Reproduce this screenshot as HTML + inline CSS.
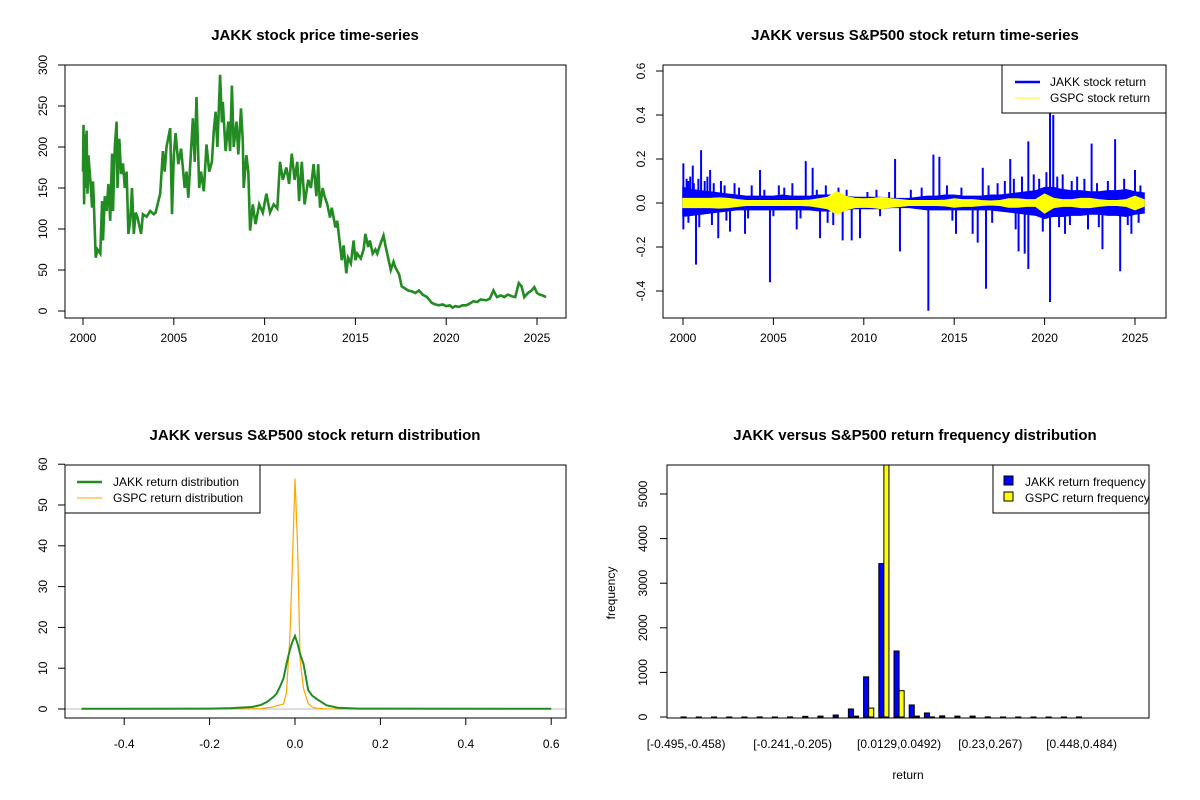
<!DOCTYPE html>
<html><head><meta charset="utf-8"><style>
body{margin:0;background:#fff}
svg{display:block;font-family:"Liberation Sans",Arial,sans-serif}
</style></head><body>
<svg id="c" width="1200" height="800" xmlns="http://www.w3.org/2000/svg"></svg>
<script>
// ---------- Panel 1 data: JAKK price ----------
const priceYears=[
2000,2000.03,2000.06,2000.1,2000.15,2000.2,2000.25,2000.3,2000.4,2000.5,
2000.55,2000.6,2000.7,2000.8,2000.95,2001.05,2001.1,2001.2,2001.3,2001.4,
2001.5,2001.6,2001.65,2001.75,2001.85,2001.9,2002.0,2002.1,2002.2,2002.3,
2002.4,2002.5,2002.6,2002.7,2002.8,2002.9,2003.0,2003.2,2003.3,2003.5,
2003.7,2003.9,2004.0,2004.25,2004.4,2004.5,2004.6,2004.8,2004.9,2005.0,
2005.1,2005.25,2005.4,2005.6,2005.7,2005.8,2006.05,2006.15,2006.25,2006.4,
2006.5,2006.65,2006.8,2006.95,2007.1,2007.2,2007.3,2007.4,2007.55,2007.65,
2007.7,2007.85,2008.0,2008.1,2008.2,2008.3,2008.45,2008.55,2008.7,2008.8,
2008.85,2009.0,2009.1,2009.2,2009.35,2009.5,2009.7,2009.9,2010.1,2010.3,
2010.5,2010.7,2010.85,2011.0,2011.2,2011.35,2011.5,2011.65,2011.8,2011.9,
2012.05,2012.2,2012.4,2012.55,2012.7,2012.85,2012.95,2013.05,2013.2,2013.3,
2013.45,2013.6,2013.7,2013.9,2014.0,2014.1,2014.25,2014.35,2014.5,2014.6,
2014.75,2014.9,2015.0,2015.1,2015.3,2015.45,2015.55,2015.7,2015.8,2015.95,
2016.1,2016.2,2016.35,2016.55,2016.65,2016.8,2016.95,2017.1,2017.2,2017.4,
2017.55,2017.7,2017.9,2018.1,2018.3,2018.5,2018.7,2018.95,2019.2,2019.4,
2019.6,2019.8,2020.0,2020.2,2020.35,2020.5,2020.7,2020.9,2021.1,2021.3,
2021.5,2021.7,2021.9,2022.2,2022.4,2022.6,2022.8,2023.0,2023.2,2023.4,
2023.6,2023.8,2024.0,2024.15,2024.3,2024.5,2024.7,2024.85,2025.0,2025.15,
2025.3,2025.5];
const priceValues=[
170,227,130,215,150,220,143,190,160,126,
158,130,65,75,70,134,86,140,122,155,
110,192,122,200,231,150,210,167,180,150,
170,94,110,150,94,120,114,94,118,115,
122,118,120,143,195,170,200,223,118,190,
217,179,198,150,170,138,235,182,261,150,
170,146,203,170,182,220,243,200,288,230,
255,195,231,195,275,200,231,191,247,207,
150,190,170,98,130,106,130,120,143,120,
130,125,182,160,175,155,192,160,182,134,
182,130,160,150,179,140,179,126,150,140,
130,114,126,102,110,90,62,80,46,65,
58,86,62,70,64,75,94,78,86,70,
75,70,80,92,80,65,50,60,53,45,
30,28,25,24,22,25,20,17,10,8,
7,8,6,7,4,6,5,7,7,9,
12,11,14,13,15,25,17,19,17,20,
18,17,34,30,17,22,25,29,22,20,
19,17];

// ---------- Panel 2 data: returns ----------
const envYears=[2000,2000.5,2001,2001.5,2002,2002.5,2003,2003.5,2004,2004.5,2005,2005.5,2006,2006.5,2007,2007.5,2008,2008.5,2009,2009.5,2010,2010.5,2011,2011.5,2012,2012.5,2013,2013.5,2014,2014.5,2015,2015.5,2016,2016.5,2017,2017.5,2018,2018.5,2019,2019.5,2020,2020.5,2021,2021.5,2022,2022.5,2023,2023.5,2024,2024.5,2025,2025.5];
const jakkUp=[0.07,0.06,0.055,0.05,0.045,0.04,0.035,0.03,0.03,0.03,0.03,0.035,0.03,0.03,0.03,0.035,0.035,0.035,0.03,0.025,0.025,0.025,0.025,0.02,0.02,0.02,0.025,0.03,0.03,0.035,0.035,0.03,0.03,0.03,0.035,0.035,0.04,0.045,0.05,0.055,0.07,0.07,0.06,0.055,0.055,0.05,0.05,0.055,0.055,0.06,0.05,0.045];
const jakkDown=[-0.06,-0.055,-0.05,-0.045,-0.04,-0.035,-0.03,-0.03,-0.03,-0.03,-0.03,-0.03,-0.03,-0.03,-0.03,-0.035,-0.035,-0.035,-0.03,-0.025,-0.025,-0.025,-0.025,-0.02,-0.02,-0.02,-0.025,-0.03,-0.03,-0.03,-0.03,-0.03,-0.03,-0.03,-0.03,-0.035,-0.04,-0.045,-0.05,-0.055,-0.07,-0.06,-0.06,-0.055,-0.055,-0.05,-0.05,-0.055,-0.055,-0.06,-0.05,-0.045];
const gspcUp=[0.02,0.02,0.02,0.02,0.022,0.02,0.015,0.01,0.01,0.01,0.01,0.01,0.01,0.01,0.012,0.018,0.025,0.05,0.03,0.02,0.018,0.02,0.025,0.018,0.015,0.01,0.01,0.01,0.01,0.012,0.018,0.014,0.014,0.01,0.008,0.01,0.018,0.018,0.014,0.014,0.04,0.02,0.014,0.014,0.02,0.02,0.014,0.01,0.01,0.014,0.03,0.014];
const gspcDown=[-0.02,-0.02,-0.02,-0.02,-0.022,-0.02,-0.015,-0.01,-0.01,-0.01,-0.01,-0.01,-0.01,-0.01,-0.012,-0.018,-0.025,-0.05,-0.03,-0.02,-0.018,-0.02,-0.025,-0.018,-0.015,-0.01,-0.01,-0.01,-0.01,-0.012,-0.018,-0.014,-0.014,-0.01,-0.008,-0.01,-0.018,-0.018,-0.014,-0.014,-0.045,-0.02,-0.014,-0.014,-0.02,-0.02,-0.014,-0.01,-0.01,-0.014,-0.03,-0.014];
const spikeYears=[2000.02,2000.02,2000.54,2000.72,2001.0,2001.5,2001.95,2002.6,2003.43,2004.26,2004.81,2006.29,2006.79,2007.17,2007.58,2008.31,2008.83,2009.33,2009.79,2011.73,2012.0,2013.57,2013.85,2014.18,2015.1,2016.02,2016.3,2016.58,2016.76,2018.1,2018.56,2018.9,2019.1,2019.1,2020.3,2020.3,2020.48,2021.13,2022.6,2023.2,2023.9,2024.18,2025.0,2024.8,
2000.2,2000.3,2000.4,2000.6,2000.85,2001.2,2001.35,2001.7,2002.1,2002.3,2002.85,2003.1,2003.8,2004.5,2005.3,2005.6,2006.05,2007.4,2007.9,2008.6,2009.05,2010.2,2010.7,2011.4,2012.6,2013.2,2014.6,2015.4,2016.9,2017.4,2017.8,2018.3,2018.75,2019.4,2019.7,2020.1,2020.7,2021.0,2021.5,2021.8,2022.2,2022.9,2023.5,2024.4,2025.3,
2000.3,2000.9,2001.6,2002.4,2003.6,2005.0,2006.5,2008.0,2010.9,2014.9,2017.1,2018.4,2019.9,2020.8,2021.4,2022.4,2023.0,2024.6,2025.2];
const spikeValues=[0.18,-0.12,0.17,-0.28,0.24,0.15,-0.16,-0.13,-0.14,0.15,-0.36,-0.12,0.19,0.16,-0.16,-0.1,-0.17,-0.17,-0.16,0.2,-0.22,-0.49,0.22,0.21,-0.14,-0.14,-0.18,0.16,-0.39,0.2,-0.22,-0.23,0.28,-0.3,0.42,-0.45,0.4,-0.14,0.27,-0.21,0.29,-0.31,0.15,-0.14,
0.11,0.1,0.12,0.09,0.11,0.1,0.12,0.09,0.1,0.08,0.09,0.07,0.08,0.06,0.08,0.07,0.09,0.06,0.08,0.07,0.06,0.05,0.06,0.05,0.06,0.07,0.08,0.07,0.08,0.09,0.1,0.11,0.12,0.13,0.11,0.14,0.12,0.13,0.1,0.12,0.11,0.09,0.1,0.11,0.08,
-0.09,-0.11,-0.1,-0.08,-0.07,-0.06,-0.07,-0.09,-0.06,-0.08,-0.09,-0.12,-0.13,-0.11,-0.1,-0.12,-0.11,-0.1,-0.09];

// ---------- Panel 3 data: densities ----------
const densX=[-0.5,-0.2,-0.15,-0.1,-0.08,-0.066,-0.05,-0.043,-0.035,-0.027,-0.02,-0.012,-0.006,0,0.006,0.012,0.02,0.031,0.04,0.05,0.074,0.1,0.15,0.6];
const jakkDens=[0.05,0.1,0.2,0.5,1.0,1.7,3.0,3.8,5.5,7.5,11,14.5,16.5,17.9,16,13.5,11,4.6,3.3,2.5,0.9,0.3,0.1,0.05];
const gspcDens=[0,0,0,0.05,0.1,0.3,0.5,0.8,1.0,1.2,4,17.7,36,56.5,40,12,5,1.3,0.5,0.2,0.05,0,0,0];

// ---------- Panel 4 data: frequency histogram ----------
const binLabels=["[-0.495,-0.458)","[-0.458,-0.422)","[-0.422,-0.386)","[-0.386,-0.35)","[-0.35,-0.313)","[-0.313,-0.277)","[-0.277,-0.241)","[-0.241,-0.205)","[-0.205,-0.168)","[-0.168,-0.132)","[-0.132,-0.0959)","[-0.0959,-0.0596)","[-0.0596,-0.0234)","[-0.0234,0.0129)","[0.0129,0.0492)","[0.0492,0.0855)","[0.0855,0.122)","[0.122,0.158)","[0.158,0.194)","[0.194,0.23)","[0.23,0.267)","[0.267,0.303)","[0.303,0.339)","[0.339,0.376)","[0.376,0.412)","[0.412,0.448)","[0.448,0.484)"];
const shownLabels=[0,7,14,20,26];
const jakkFreq=[2,1,1,1,1,2,1,2,15,20,45,180,900,3440,1480,270,90,25,20,20,3,1,1,1,1,1,2];
const gspcFreq=[0,0,0,0,0,0,0,0,0,0,0,20,200,5800,590,20,2,0,0,0,0,0,0,0,0,0,0];
const freqTicks=[0,1000,2000,3000,4000,5000];

// ---------- helpers ----------
const svg=document.getElementById('c');
const NS='http://www.w3.org/2000/svg';
function el(tag,attrs,parent){const e=document.createElementNS(NS,tag);for(const k in attrs)e.setAttribute(k,attrs[k]);(parent||svg).appendChild(e);return e;}
function txt(s,x,y,opt,parent){const t=el('text',Object.assign({x:x,y:y,'font-size':12,'text-anchor':'middle',fill:'#000'},opt||{}),parent);t.textContent=s;return t;}
function lin(d0,d1,r0,r1){return v=>r0+(v-d0)*(r1-r0)/(d1-d0);}

// ---------- Panel 1 ----------
(function(){
const g=el('g',{});


const X=lin(2000,2025,83,537), Y=lin(0,300,311,65);
const t=txt('JAKK stock price time-series',315,40,{'font-size':15,'font-weight':'bold'},g);

el('rect',{x:65,y:65,width:501,height:253,fill:'none',stroke:'#000'},g);
let pts=priceYears.map((yr,i)=>X(yr).toFixed(1)+','+Y(priceValues[i]).toFixed(1)).join(' ');
const p=el('polyline',{points:pts,fill:'none',stroke:'#228b22','stroke-width':2.6,'stroke-linejoin':'miter'},g);

[2000,2005,2010,2015,2020,2025].forEach(v=>{el('line',{x1:X(v),x2:X(v),y1:318,y2:325,stroke:'#000'},g);txt(v,X(v),342,{},g);});
[0,50,100,150,200,250,300].forEach(v=>{el('line',{x1:58,x2:65,y1:Y(v),y2:Y(v),stroke:'#000'},g);txt(v,0,0,{transform:`translate(47,${Y(v)}) rotate(-90)`},g);});
})();

// ---------- Panel 2 ----------
(function(){
const g=el('g',{});


const X=lin(2000,2025,683,1135), Y=lin(0,0.2,203,159);
const t=txt('JAKK versus S&P500 stock return time-series',915,40,{'font-size':15,'font-weight':'bold'},g);

const cp=el('clipPath',{id:'cp2'},g);el('rect',{x:663,y:65,width:503,height:253},cp);
const pg=el('g',{'clip-path':'url(#cp2)'},g);
function band(up,down,col,name){
 let a=envYears.map((yr,i)=>X(yr)+','+Y(up[i])), b=envYears.map((yr,i)=>X(yr)+','+Y(down[i])).reverse();
 const e=el('polygon',{points:a.concat(b).join(' '),fill:col,stroke:col,'stroke-width':1.5},pg);
 
}
band(jakkUp,jakkDown,'#0000ff','jakk-return-band');
spikeYears.forEach((yr,i)=>{const s=el('line',{x1:X(yr),x2:X(yr),y1:Y(0),y2:Y(spikeValues[i]),stroke:'#0000ff','stroke-width':2},pg);
 });
band(gspcUp,gspcDown,'#ffff00','gspc-return-band');
el('rect',{x:663,y:65,width:503,height:253,fill:'none',stroke:'#000'},g);
[2000,2005,2010,2015,2020,2025].forEach(v=>{el('line',{x1:X(v),x2:X(v),y1:318,y2:325,stroke:'#000'},g);txt(v,X(v),342,{},g);});
[-0.4,-0.2,0,0.2,0.4,0.6].forEach(v=>{el('line',{x1:656,x2:663,y1:Y(v),y2:Y(v),stroke:'#000'},g);txt(v.toFixed(1),0,0,{transform:`translate(645,${Y(v)}) rotate(-90)`},g);});
const lg=el('g',{},g);
el('rect',{x:1002,y:65,width:164,height:48,fill:'#fff',stroke:'#000'},lg);
el('line',{x1:1015,x2:1040,y1:82,y2:82,stroke:'#0000ff','stroke-width':2.5},lg);
el('line',{x1:1015,x2:1040,y1:98,y2:98,stroke:'#ffff00','stroke-width':1},lg);
txt('JAKK stock return',1050,86,{'text-anchor':'start'},lg);
txt('GSPC stock return',1050,102,{'text-anchor':'start'},lg);
})();

// ---------- Panel 3 ----------
(function(){
const g=el('g',{});


const X=lin(0,0.2,295,380.4), Y=lin(0,10,709,668.2);
const t=txt('JAKK versus S&P500 stock return distribution',315,440,{'font-size':15,'font-weight':'bold'},g);

el('line',{x1:65,x2:566,y1:Y(0),y2:Y(0),stroke:'#bebebe'},g);
let o=el('polyline',{points:densX.map((x,i)=>X(x)+','+Y(gspcDens[i])).join(' '),fill:'none',stroke:'#ffa500','stroke-width':1.2},g);

let gl=el('polyline',{points:densX.map((x,i)=>X(x)+','+Y(jakkDens[i])).join(' '),fill:'none',stroke:'#228b22','stroke-width':2},g);

el('rect',{x:65,y:465,width:501,height:253,fill:'none',stroke:'#000'},g);
[-0.4,-0.2,0,0.2,0.4,0.6].forEach(v=>{el('line',{x1:X(v),x2:X(v),y1:718,y2:725,stroke:'#000'},g);txt(v.toFixed(1),X(v),748,{},g);});
[0,10,20,30,40,50,60].forEach(v=>{el('line',{x1:58,x2:65,y1:Y(v),y2:Y(v),stroke:'#000'},g);txt(v,0,0,{transform:`translate(47,${Y(v)}) rotate(-90)`},g);});
const lg=el('g',{},g);
el('rect',{x:65,y:465,width:195,height:48,fill:'#fff',stroke:'#000'},lg);
el('line',{x1:77,x2:102,y1:482,y2:482,stroke:'#228b22','stroke-width':2.5},lg);
el('line',{x1:77,x2:102,y1:498,y2:498,stroke:'#ffa500','stroke-width':1},lg);
txt('JAKK return distribution',113,486,{'text-anchor':'start'},lg);
txt('GSPC return distribution',113,502,{'text-anchor':'start'},lg);
})();

// ---------- Panel 4 ----------
(function(){
const g=el('g',{});


const u=5.07, x0=676;
const Y=lin(0,1000,717,672.4);
const t=txt('JAKK versus S&P500 return frequency distribution',915,440,{'font-size':15,'font-weight':'bold'},g);

const cp=el('clipPath',{id:'cp4'},g);el('rect',{x:667,y:465,width:482,height:253},cp);
const pg=el('g',{'clip-path':'url(#cp4)'},g);
binLabels.forEach((lab,k)=>{
 const s=x0+u*(1+3*k);
 const hb=Math.max(0,Y(0)-Y(jakkFreq[k])), hy=Math.max(0,Y(0)-Y(gspcFreq[k]));
 const b=el('rect',{x:s,y:Y(0)-hb,width:u,height:hb,fill:'#0000ff',stroke:'#000','stroke-width':1},pg);
 
 const c=el('rect',{x:s+u,y:Y(0)-hy,width:u,height:hy,fill:'#ffff00',stroke:'#000','stroke-width':1},pg);
 
 if(shownLabels.includes(k)) txt(lab,s+u,748,{},g);
});
el('rect',{x:667,y:465,width:482,height:253,fill:'none',stroke:'#000'},g);
freqTicks.forEach(v=>{el('line',{x1:660,x2:667,y1:Y(v),y2:Y(v),stroke:'#000'},g);txt(v,0,0,{transform:`translate(647,${Y(v)}) rotate(-90)`},g);});
txt('frequency',0,0,{transform:'translate(615,593) rotate(-90)'},g);
txt('return',908,779,{},g);
const lg=el('g',{},g);
el('rect',{x:993,y:465,width:156,height:48,fill:'#fff',stroke:'#000'},lg);
el('rect',{x:1004,y:476,width:9,height:9,fill:'#0000ff',stroke:'#000'},lg);
el('rect',{x:1004,y:492,width:9,height:9,fill:'#ffff00',stroke:'#000'},lg);
txt('JAKK return frequency',1025,486,{'text-anchor':'start'},lg);
txt('GSPC return frequency',1025,502,{'text-anchor':'start'},lg);
})();
</script>
</body></html>
